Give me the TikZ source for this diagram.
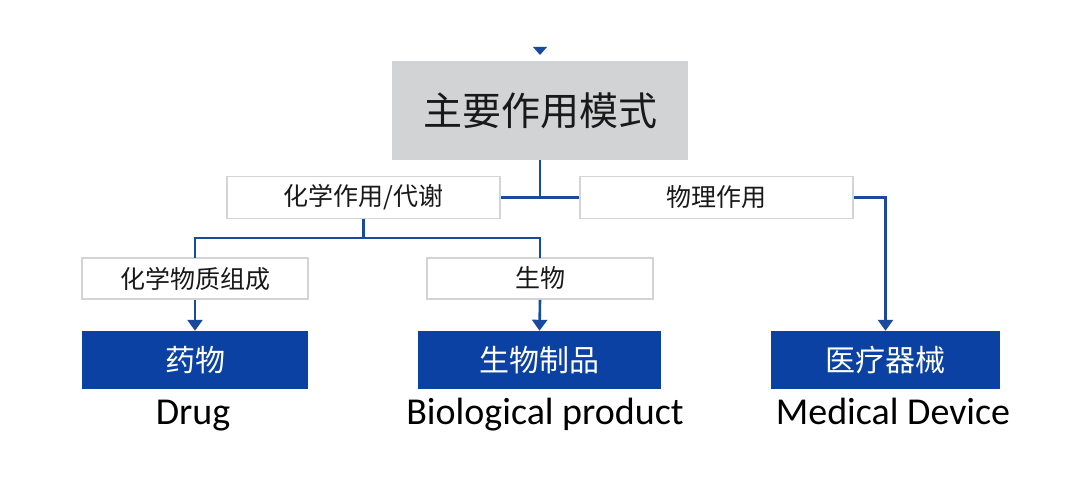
\documentclass[tikz,border=0pt]{standalone}
\usepackage{fontspec}
\setmainfont{Carlito}
\newfontfamily\cjk{Noto Sans CJK SC}
\usetikzlibrary{arrows.meta}
\definecolor{mblue}{HTML}{0B41A3}
\definecolor{lblue}{HTML}{1A4A9E}
\definecolor{mgray}{HTML}{D1D3D4}
\definecolor{bgray}{HTML}{D4D4D4}
\tikzset{
  graybox/.style={fill=mgray, draw=none, minimum width=296pt, minimum height=99pt, inner sep=0pt,
    font=\cjk\fontsize{39}{44}\selectfont, text=black!90},
  whitebox/.style={fill=white, draw=bgray, line width=1.8pt, minimum height=42pt, inner sep=0pt,
    font=\cjk\fontsize{25}{29}\selectfont, text=black!90},
  bluebox/.style={fill=mblue, draw=none, minimum height=58pt, inner sep=0pt,
    font=\cjk\fontsize{30}{34}\selectfont, text=white},
  enlabel/.style={font=\fontsize{38}{42}\selectfont, text=black, inner sep=0pt, anchor=base},
  conn/.style={draw=lblue, line width=2.6pt},
  arr/.style={conn, -{Triangle[width=15pt,length=11pt]}},
}
\begin{document}
\begin{tikzpicture}[x=1pt,y=-1pt]
\useasboundingbox (0,0) rectangle (1080,494);
% boxes
\node[graybox] (top) at (540,110.5) {主要作用模式};
\node[whitebox, minimum width=273pt] (chem) at (363.5,197.5) {化学作用/代谢};
\node[whitebox, minimum width=273pt] (phys) at (716.5,197.5) {物理作用};
\node[whitebox, minimum width=226pt, minimum height=41pt] (comp) at (195,278.5) {化学物质组成};
\node[whitebox, minimum width=226pt, minimum height=41pt] (bio) at (540,278.5) {生物};
\node[bluebox, minimum width=226pt] (drug) at (195,360) {药物};
\node[bluebox, minimum width=243pt] (bprod) at (539.5,360) {生物制品};
\node[bluebox, minimum width=229pt] (dev) at (885.5,360) {医疗器械};
% english labels
\node[enlabel] (drugL) at (193,425) {Drug};
\node[enlabel] (bioL) at (545,425) {Biological product};
\node[enlabel] (devL) at (893,425) {Medical Device};
% top arrowhead
\fill[lblue] (533,47) -- (547,47) -- (540,55) -- cycle;
% connectors
\coordinate (j1) at (540,197.5);
\coordinate (split) at (363.5,238);
\draw[conn] (top.south) -- (j1);
\draw[conn] (chem.east) -- (phys.west);
\draw[arr] (phys.east) -| (dev.north);
\draw[conn] (chem.south) -- (split);
\draw[conn, line cap=rect] (comp.north) |- (split) -| (bio.north);
\draw[arr] (comp.south) -- (drug.north);
\draw[arr] (bio.south) -- (bprod.north);
\end{tikzpicture}
\end{document}
